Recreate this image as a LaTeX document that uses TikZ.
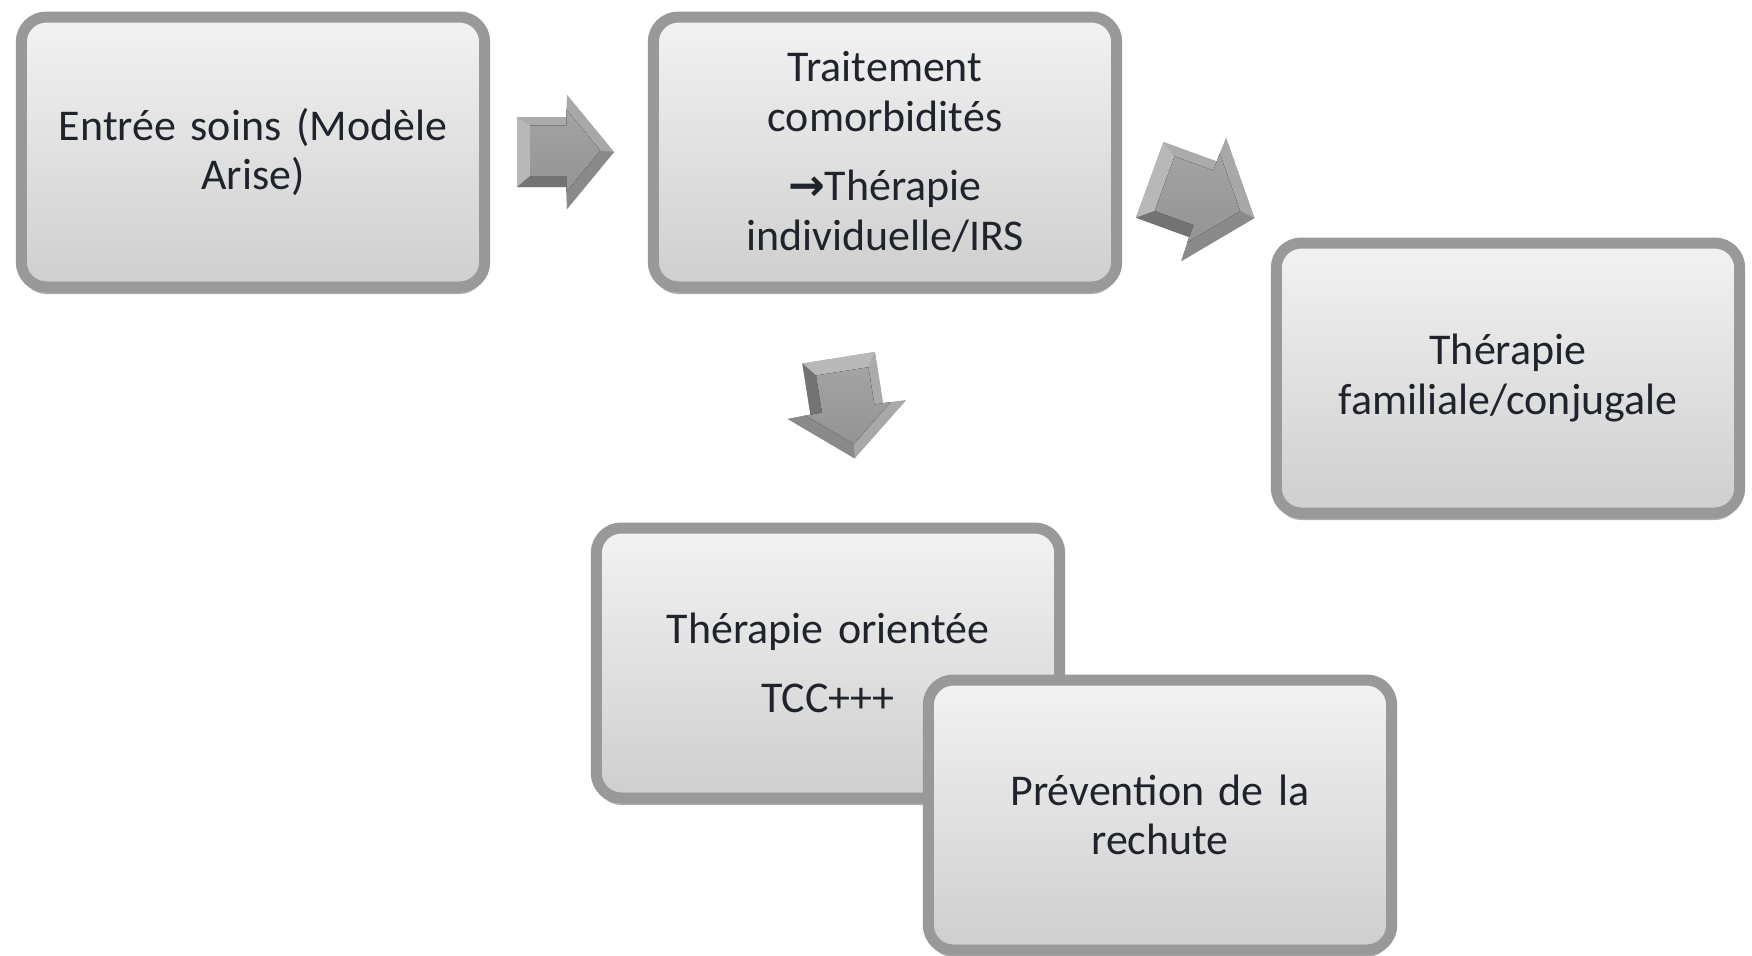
\documentclass[tikz,border=0pt]{standalone}
\usepackage{fontspec}
\setmainfont[WordSpace=0.8]{Carlito}
\newfontfamily\symfont{DejaVu Sans}
\usetikzlibrary{positioning,calc,shadows}

\definecolor{textcol}{HTML}{1F232C}

% beveled block arrow, pointing right, centred on the origin
\tikzset{pics/fleche/.style={code={
  \fill[black!38] (-0.48,0.35) -- (0.02,0.35) -- (0.02,0.57) -- (0.49,0) -- (0.02,-0.57) -- (0.02,-0.35) -- (-0.48,-0.35) -- cycle;
  \fill[black!28] (-0.48,0.35) -- (-0.346,0.266) -- (-0.346,-0.238) -- (-0.48,-0.35) -- cycle;
  \fill[black!33] (-0.48,0.35) -- (0.02,0.35) -- (0.014,0.266) -- (-0.346,0.266) -- cycle;
  \fill[black!34] (0.02,0.57) -- (0.49,0) -- (0.353,0.014) -- (0.014,0.424) -- cycle;
  \fill[black!46] (0.49,0) -- (0.02,-0.57) -- (0.014,-0.396) -- (0.353,0.014) -- cycle;
  \fill[black!55] (-0.48,-0.35) -- (0.02,-0.35) -- (0.014,-0.238) -- (-0.346,-0.238) -- cycle;
  \fill[black!42] (0.02,-0.35) -- (0.02,-0.57) -- (0.014,-0.396) -- (0.014,-0.238) -- cycle;
  \fill[top color=black!36, bottom color=black!42] (-0.346,0.266) -- (0.014,0.266) -- (0.014,0.424) -- (0.353,0.014) -- (0.014,-0.396) -- (0.014,-0.238) -- (-0.346,-0.238) -- cycle;
}}}

\begin{document}
\begin{tikzpicture}[on grid, etape/.style = {draw=black!40, line width=0.11cm, rounded corners=0.25cm,
    top color=black!5, bottom color=black!19, minimum width=4.58cm, minimum height=2.7cm,
    text width=4.4cm, align=center, text=textcol, font=\fontsize{12.5}{14.1}\selectfont,
    drop shadow={shadow xshift=0cm, shadow yshift=-0.07cm, opacity=0.45, fill=black!70}}]
    \useasboundingbox (0,0) rectangle (17.52,-9.55);

    \node[etape] (n_1) at (2.53,-1.52) {Entrée soins (Modèle\\ Arise)};
    \node[etape] (n_2) [right=63.2mm of n_1] {Traitement\\ comorbidités\\[0.2cm] {\symfont\bfseries →}Thérapie\\ individuelle/IRS};
    \node[etape] (n_3) [below right=22.6mm and 62.3mm of n_2] {Thérapie\\ familiale/conjugale};
    \node[etape] (n_4) [below left=51.1mm and 5.7mm of n_2] {Thérapie orientée\\[0.2cm] TCC+++};
    \node[etape] (n_5) [below right=15.2mm and 33.2mm of n_4] {Prévention de la\\ rechute};

    \pic at ($(n_1.east)!0.5!(n_2.west)+(-0.04,0)$) {fleche};
    \pic[rotate=-20, scale=1.15] at ($(n_2.east)!0.5!(n_3.north west)+(0.05,-0.04)$) {fleche};
    \pic[rotate=-81, scale=1.05] at ($(n_2.south)!0.5!(n_4.north)+(-0.1,0)$) {fleche};
\end{tikzpicture}
\end{document}
